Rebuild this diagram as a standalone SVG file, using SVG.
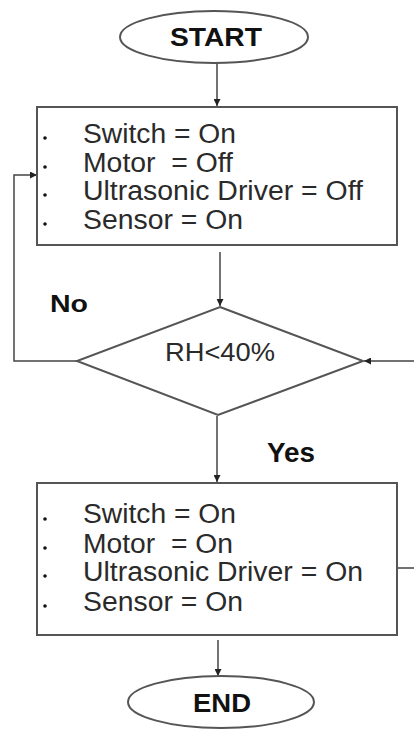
<svg xmlns="http://www.w3.org/2000/svg" width="414" height="729" viewBox="0 0 414 729">
<defs>
<marker id="ah" viewBox="0 0 10 10" refX="10" refY="5" markerWidth="7" markerHeight="7" orient="auto" markerUnits="userSpaceOnUse">
<path d="M0,0 L10,5 L0,10 z" fill="#222"/>
</marker>
<style>
.shape{fill:#fff;stroke:#555;stroke-width:2}
.conn{fill:none;stroke:#444;stroke-width:1.5}
.t{font-family:"Liberation Sans",Arial,sans-serif;fill:#2a2a2a;white-space:pre}
.b{font-weight:bold;fill:#111}
.dot{fill:#111}
</style>
</defs>
<rect width="414" height="729" fill="#fff"/>
<g id="connectors">
<path class="conn" d="M217,63 V106" marker-end="url(#ah)"/>
<path class="conn" d="M220,252 V306" marker-end="url(#ah)"/>
<path class="conn" d="M77,361 H14 V175 H37" marker-end="url(#ah)"/>
<path class="conn" d="M217,416 V482" marker-end="url(#ah)"/>
<path class="conn" d="M397,568 H416 V361 H364" marker-end="url(#ah)"/>
<path class="conn" d="M218,640 V676" marker-end="url(#ah)"/>
</g>
<g id="start">
<ellipse class="shape" cx="214" cy="37" rx="94" ry="26"/>
<text class="t b" x="170" y="46" font-size="25" textLength="92" lengthAdjust="spacingAndGlyphs">START</text>
</g>
<g id="box1">
<rect class="shape" x="37" y="107" width="360" height="138"/>
<circle class="dot" cx="45" cy="138" r="1.8"/>
<circle class="dot" cx="45" cy="167" r="1.8"/>
<circle class="dot" cx="45" cy="195" r="1.8"/>
<circle class="dot" cx="45" cy="224" r="1.8"/>
<text class="t" x="83" y="143" font-size="27" textLength="153" lengthAdjust="spacingAndGlyphs">Switch = On</text>
<text class="t" x="83" y="172" font-size="27" textLength="150" lengthAdjust="spacingAndGlyphs">Motor  = Off</text>
<text class="t" x="83" y="200" font-size="27" textLength="280" lengthAdjust="spacingAndGlyphs">Ultrasonic Driver = Off</text>
<text class="t" x="83" y="229" font-size="27" textLength="160" lengthAdjust="spacingAndGlyphs">Sensor = On</text>
</g>
<g id="decision">
<polygon class="shape" points="220,307 363,361 218,415 77,361"/>
<text class="t" x="165" y="361" font-size="26" textLength="110" lengthAdjust="spacingAndGlyphs">RH&lt;40%</text>
</g>
<text class="t b" x="50" y="312" font-size="24" textLength="38" lengthAdjust="spacingAndGlyphs">No</text>
<text class="t b" x="267" y="462" font-size="27" textLength="48" lengthAdjust="spacingAndGlyphs">Yes</text>
<g id="box2">
<rect class="shape" x="37" y="483" width="360" height="152"/>
<circle class="dot" cx="45" cy="519" r="1.8"/>
<circle class="dot" cx="45" cy="548" r="1.8"/>
<circle class="dot" cx="45" cy="576" r="1.8"/>
<circle class="dot" cx="45" cy="606" r="1.8"/>
<text class="t" x="83" y="523" font-size="27" textLength="153" lengthAdjust="spacingAndGlyphs">Switch = On</text>
<text class="t" x="83" y="553" font-size="27" textLength="150" lengthAdjust="spacingAndGlyphs">Motor  = On</text>
<text class="t" x="83" y="581" font-size="27" textLength="280" lengthAdjust="spacingAndGlyphs">Ultrasonic Driver = On</text>
<text class="t" x="83" y="611" font-size="27" textLength="160" lengthAdjust="spacingAndGlyphs">Sensor = On</text>
</g>
<g id="end">
<ellipse class="shape" cx="221" cy="702" rx="93" ry="26"/>
<text class="t b" x="193" y="712" font-size="25" textLength="58" lengthAdjust="spacingAndGlyphs">END</text>
</g>
</svg>
